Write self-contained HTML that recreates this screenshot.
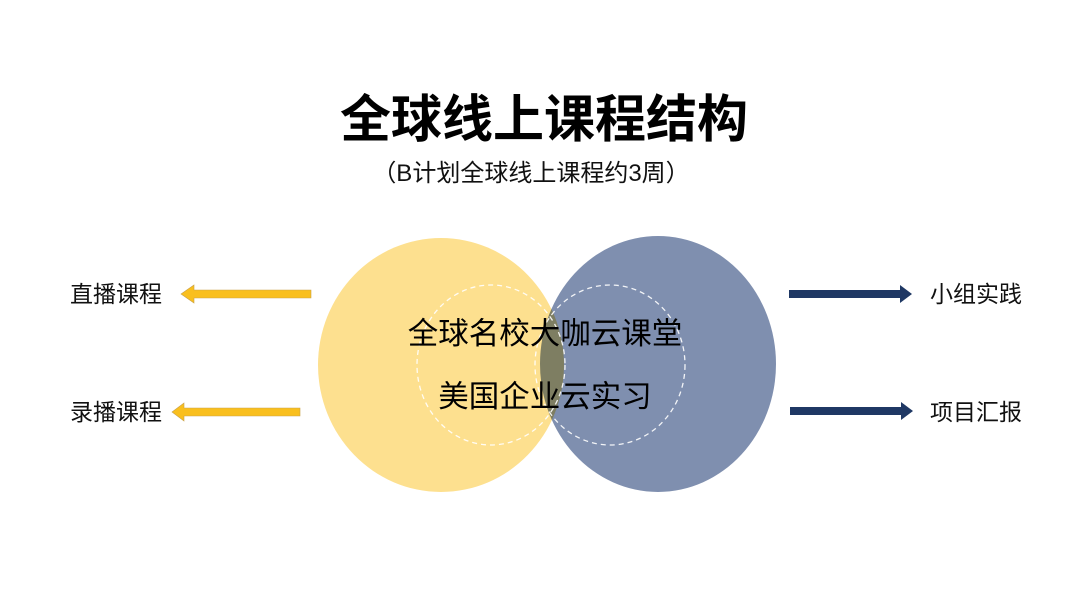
<!DOCTYPE html>
<html><head><meta charset="utf-8"><style>
body{margin:0;width:1080px;height:606px;background:#fff;overflow:hidden;font-family:"Liberation Sans","Noto Sans CJK SC",sans-serif;}
</style></head><body>
<svg width="1080" height="606" viewBox="0 0 1080 606" xmlns="http://www.w3.org/2000/svg" style="font-family:'Liberation Sans','Noto Sans CJK SC',sans-serif">
<text x="544" y="137" text-anchor="middle" font-size="51" font-weight="bold" fill="#000">全球线上课程结构</text>
<text x="531" y="181" text-anchor="middle" font-size="24" fill="#111">（B计划全球线上课程约3周）</text>
<ellipse cx="441" cy="365" rx="123" ry="127" fill="#FDE08F"/>
<ellipse cx="658" cy="364" rx="118" ry="128" fill="#7F8FAF" style="mix-blend-mode:multiply"/>
<ellipse cx="491" cy="365" rx="74" ry="80" fill="none" stroke="#fff" stroke-width="1.3" stroke-dasharray="5,4" opacity="0.9"/>
<ellipse cx="610" cy="365" rx="75" ry="80" fill="none" stroke="#fff" stroke-width="1.3" stroke-dasharray="5,4" opacity="0.9"/>
<text x="545" y="344" text-anchor="middle" font-size="30.5" fill="#000">全球名校大咖云课堂</text>
<text x="545" y="407" text-anchor="middle" font-size="30.5" fill="#000">美国企业云实习</text>
<g fill="#F9BF1E" stroke="#c9a24a" stroke-width="0.6">
<polygon points="311,290 194,290 194,285 181,294 194,303 194,298 311,298"/>
<polygon points="300,408 184,408 184,403 172,412 184,421 184,416 300,416"/>
</g>
<g fill="#1F3864">
<polygon points="789,290 900,290 900,285 912,294 900,303 900,298 789,298"/>
<polygon points="790,407 901,407 901,402 913,411 901,420 901,415 790,415"/>
</g>
<g font-size="23" fill="#111">
<text x="70" y="302">直播课程</text>
<text x="70" y="420">录播课程</text>
<text x="930" y="302">小组实践</text>
<text x="930" y="420">项目汇报</text>
</g>
</svg>
</body></html>
